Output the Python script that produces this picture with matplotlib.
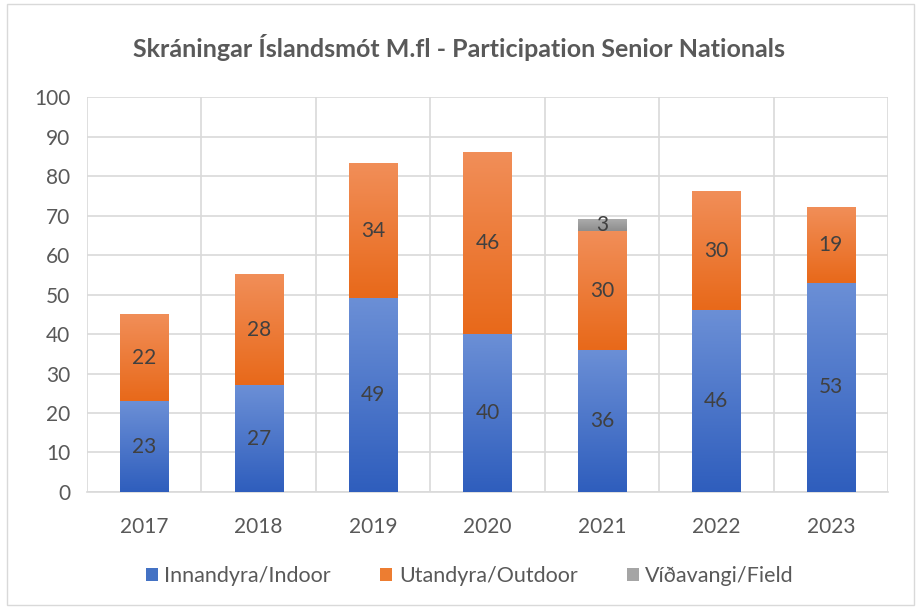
import numpy as np
import matplotlib.pyplot as plt
from matplotlib.colors import LinearSegmentedColormap
from matplotlib.patches import Patch, Rectangle

years = ['2017', '2018', '2019', '2020', '2021', '2022', '2023']
indoor = [23, 27, 49, 40, 36, 46, 53]
outdoor = [22, 28, 34, 46, 30, 30, 19]
field = [0, 0, 0, 0, 3, 0, 0]

series_names = ['Innandyra/Indoor', 'Utandyra/Outdoor', 'Víðavangi/Field']
# (top colour, bottom colour) of each gradient
grad_colors = [('#6b8fd6', '#2f5ebd'), ('#f18e58', '#e8691a'), ('#ababab', '#8e8e8e')]
legend_colors = ['#4472c4', '#ed7d31', '#a5a5a5']

plt.rcParams['font.family'] = ['Lato', 'DejaVu Sans']

fig = plt.figure(figsize=(9.18, 6.07), dpi=100)
ax = fig.add_axes([0.0948, 0.1895, 0.8725, 0.6505])

x = np.arange(len(years))
width = 0.42
bottom = np.zeros(len(years))

for vals, name, (c_top, c_bot) in zip([indoor, outdoor, field], series_names, grad_colors):
    vals = np.array(vals, dtype=float)
    bars = ax.bar(x, vals, width, bottom=bottom, color='none', edgecolor='none', zorder=3)
    cmap = LinearSegmentedColormap.from_list('g', [c_bot, c_top])
    grad = np.linspace(0, 1, 100).reshape(-1, 1)
    for p in bars.patches:
        if p.get_height() <= 0:
            continue
        x0, y0 = p.get_x(), p.get_y()
        ax.imshow(grad, extent=[x0, x0 + p.get_width(), y0, y0 + p.get_height()],
                  origin='lower', aspect='auto', cmap=cmap, zorder=3)
    labels = [str(int(v)) if v > 0 else '' for v in vals]
    ax.bar_label(bars, labels=labels, label_type='center', fontsize=15, color='#404040', zorder=5)
    bottom += vals

ax.set_xlim(-0.5, len(years) - 0.5)
ax.set_ylim(0, 100)
ax.set_yticks(range(0, 101, 10))
ax.set_xticks(x)
ax.set_xticklabels(years)
ax.tick_params(axis='both', length=0, labelsize=15, labelcolor='#595959')
ax.tick_params(axis='x', pad=18)
ax.tick_params(axis='y', pad=12)

ax.set_xticks(np.arange(-0.5, len(years)), minor=True)
ax.tick_params(axis='x', which='minor', length=0)
ax.grid(axis='y', color='#d9d9d9', linewidth=1.2, zorder=0)
ax.grid(axis='x', which='minor', color='#d9d9d9', linewidth=1.2, zorder=0)
ax.grid(axis='x', which='major', visible=False)
for s in ['top', 'right', 'left']:
    ax.spines[s].set_visible(False)
ax.spines['bottom'].set_color('#d9d9d9')
ax.spines['bottom'].set_linewidth(1.2)
ax.set_axisbelow(True)

fig.text(0.5, 0.922, 'Skráningar Íslandsmót M.fl - Participation Senior Nationals',
         ha='center', va='center', fontsize=18, fontweight='bold', color='#595959')

handles = [Patch(facecolor=c) for c in legend_colors]
fig.legend(handles, series_names, loc='center', bbox_to_anchor=(0.512, 0.051), ncol=3,
           frameon=False, fontsize=15.5, labelcolor='#595959', handlelength=0.55,
           handleheight=0.55, handletextpad=0.3, columnspacing=2.3)

fig.patches.append(Rectangle((0.008, 0.004), 0.988, 0.99, transform=fig.transFigure,
                             fill=False, edgecolor='#d9d9d9', linewidth=1))

fig.savefig('out.png', dpi=100)
